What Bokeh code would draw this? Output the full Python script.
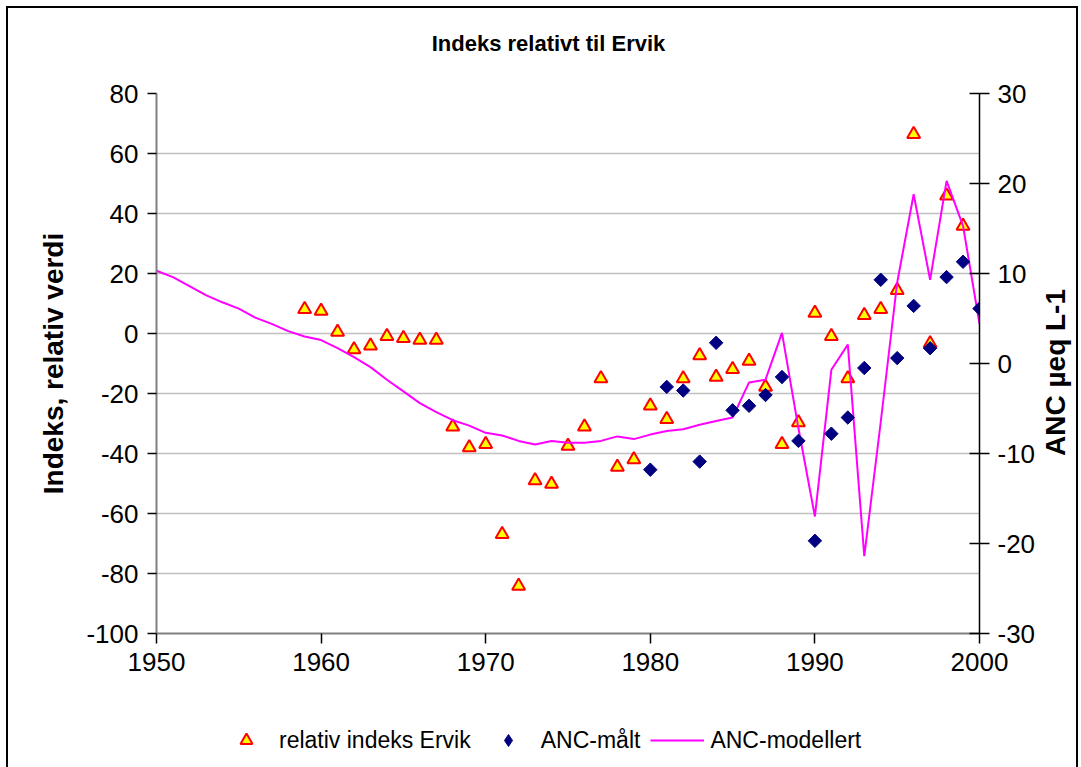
from bokeh.plotting import figure
from bokeh.layouts import column, row
from bokeh.models import Range1d, LinearAxis, FixedTicker, Legend, LegendItem, PrintfTickFormatter
from bokeh.core.properties import value
from bokeh.embed import file_html
from bokeh.resources import INLINE
import numpy as np

FONT = "Liberation Sans"

# relativ indeks Ervik (left axis)
idx_years = [1959, 1960, 1961, 1962, 1963, 1964, 1965, 1966, 1967, 1968, 1969,
             1970, 1971, 1972, 1973, 1974, 1975, 1976, 1977, 1978, 1979,
             1980, 1981, 1982, 1983, 1984, 1985, 1986, 1987, 1988, 1989,
             1990, 1991, 1992, 1993, 1994, 1995, 1996, 1997, 1998, 1999]
idx_values = [8.1, 7.5, 0.5, -5.3, -4.1, -0.9, -1.6, -2.2, -2.2, -31.1, -38.0,
              -36.9, -66.9, -84.2, -49.0, -50.2, -37.5, -31.1, -15.0, -44.5, -42.0,
              -24.1, -28.6, -15.0, -7.3, -14.5, -11.9, -9.2, -17.8, -36.9, -29.7,
              6.8, -0.9, -15.0, 6.1, 8.1, 14.4, 66.4, -3.3, 45.9, 35.8]

# ANC-målt (right axis)
anc_meas_years = [1980, 1981, 1982, 1983, 1984, 1985, 1986, 1987, 1988, 1989, 1990,
                  1991, 1992, 1993, 1994, 1995, 1996, 1997, 1998, 1999, 2000]
anc_meas = [-11.8, -2.6, -3.0, -10.9, 2.3, -5.2, -4.7, -3.5, -1.5, -8.6, -19.7,
            -7.8, -6.0, -0.5, 9.3, 0.6, 6.4, 1.7, 9.6, 11.3, 6.1]

# ANC-modellert (right axis)
anc_model_years = list(range(1950, 2001))
anc_model = [10.3, 9.6, 8.6, 7.6, 6.8, 6.1, 5.1, 4.4, 3.6, 3.0,
             2.6, 1.7, 0.7, -0.4, -1.8, -3.1, -4.4, -5.4, -6.3, -6.9,
             -7.7, -8.0, -8.6, -9.0, -8.6, -8.8, -8.8, -8.6, -8.1, -8.4,
             -7.9, -7.5, -7.3, -6.8, -6.4, -6.0, -2.1, -1.8, 3.4, -7.2,
             -17.0, -0.7, 2.1, -21.4, -6.5, 9.0, 18.8, 9.3, 20.3, 15.3,
             4.4]

x_ticks = [1950, 1960, 1970, 1980, 1990, 2000]
left_ticks = list(range(-100, 81, 20))
right_ticks = list(range(-30, 31, 10))
title_text = "Indeks relativt til Ervik"
left_label = "Indeks, relativ verdi"
right_label = "ANC µeq L-1"
legend_labels = ["relativ indeks Ervik", "ANC-målt", "ANC-modellert"]

W = 1068
BL, BR_MAIN = 148, 56          # left border, right border of main plot
BR_STRIP = W - BL - 826        # right border of strips so frames line up

def blank(fig):
    fig.outline_line_color = None
    fig.grid.visible = False
    fig.background_fill_color = "white"
    fig.border_fill_color = "white"

# ---- title strip (page y 8..68)
t = figure(width=W, height=60, x_range=Range1d(156, 982), y_range=Range1d(68, 8),
           output_backend="svg", toolbar_location=None,
           x_axis_type=None, y_axis_type=None,
           min_border_left=BL, min_border_right=BR_STRIP, min_border_top=0, min_border_bottom=0)
blank(t)
t.text(x=[548], y=[43], text=[title_text], text_align="center", text_baseline="middle",
       text_font=value(FONT), text_font_size="22px", text_font_style="bold", text_color="black")

# ---- main plot (page y 68..708)
p = figure(width=1030, height=640,
           x_range=Range1d(1950, 2000), y_range=Range1d(-100, 80),
           output_backend="svg", toolbar_location=None,
           min_border_left=BL, min_border_right=BR_MAIN,
           min_border_top=25, min_border_bottom=75)
blank(p)
p.grid.visible = True
p.extra_y_ranges = {"anc": Range1d(-30, 30)}

def style_axis(ax, line_color, line_width):
    ax.axis_line_color = line_color
    ax.axis_line_width = line_width
    ax.major_tick_line_color = "black"
    ax.major_tick_line_width = 1.5
    ax.minor_tick_line_color = None
    ax.major_label_text_font = FONT
    ax.major_label_text_font_size = "26px"
    ax.major_label_text_color = "black"
    ax.axis_label_text_font = FONT
    ax.axis_label_text_font_size = "28px"
    ax.axis_label_text_font_style = "bold"
    ax.axis_label_text_color = "black"
    ax.formatter = PrintfTickFormatter(format="%d")

xa = p.xaxis[0]
xa.ticker = FixedTicker(ticks=x_ticks)
style_axis(xa, "#808080", 2)
xa.major_tick_in = 0
xa.major_tick_out = 10
xa.major_label_standoff = 9

ya = p.yaxis[0]
ya.ticker = FixedTicker(ticks=left_ticks)
style_axis(ya, "#808080", 2)
ya.major_tick_in = 0
ya.major_tick_out = 9
ya.major_label_standoff = 9
ya.axis_label = left_label
ya.axis_label_standoff = 14

ra = LinearAxis(y_range_name="anc", ticker=FixedTicker(ticks=right_ticks))
style_axis(ra, "black", 1.5)
ra.major_tick_in = 10
ra.major_tick_out = 10
ra.major_label_standoff = 8
p.add_layout(ra, "right")

p.xgrid.visible = False
p.ygrid.ticker = FixedTicker(ticks=left_ticks)
p.ygrid.grid_line_color = "#c0c0c0"
p.ygrid.grid_line_width = 1.5

tri_style = dict(marker="triangle", size=13, fill_color="#FFFF00",
                 line_color="#FF0000", line_width=2)
dia_style = dict(marker="square", angle=np.pi / 4, size=9.5,
                 fill_color="#000080", line_color="#000080")
line_style = dict(line_color="#FF00FF", line_width=2)

p.scatter(idx_years, idx_values, **tri_style)
p.line(anc_model_years, anc_model, y_range_name="anc", **line_style)
p.scatter(anc_meas_years, anc_meas, y_range_name="anc", **dia_style)

# ---- right axis title strip (page x 1038..1076)
r = figure(width=W - 1030, height=640, x_range=Range1d(1038, 1076), y_range=Range1d(633, 93),
           output_backend="svg", toolbar_location=None,
           x_axis_type=None, y_axis_type=None,
           min_border_left=0, min_border_right=0, min_border_top=25, min_border_bottom=75)
blank(r)
r.text(x=[1055], y=[372], text=[right_label], angle=np.pi / 2,
       text_align="center", text_baseline="middle",
       text_font=value(FONT), text_font_size="28px", text_font_style="bold", text_color="black")

# ---- legend strip (page y 708..767)
q = figure(width=W, height=59, x_range=Range1d(156, 982), y_range=Range1d(767, 708),
           output_backend="svg", toolbar_location=None,
           x_axis_type=None, y_axis_type=None,
           min_border_left=BL, min_border_right=BR_STRIP, min_border_top=0, min_border_bottom=0)
blank(q)
# legend-only renderers, placed outside the visible range
lt = q.scatter(x=[0], y=[0], **tri_style)
ld = q.scatter(x=[0], y=[0], marker="diamond", size=12,
               fill_color="#000080", line_color="#000080")
ll = q.line(x=[0, 1], y=[0, 0], **line_style)

legend = Legend(items=[LegendItem(label=legend_labels[0], renderers=[lt]),
                       LegendItem(label=legend_labels[1], renderers=[ld]),
                       LegendItem(label=legend_labels[2], renderers=[ll])],
                orientation="horizontal", location=(63, 12),
                glyph_width=54, glyph_height=30, label_standoff=6, spacing=10,
                padding=0, margin=0, border_line_color=None,
                background_fill_alpha=0,
                label_text_font=FONT, label_text_font_size="23px",
                label_text_color="black")
q.add_layout(legend)

layout = column(t, row(p, r, spacing=0), q, spacing=0,
                styles={"margin-left": "8px", "margin-top": "8px",
                        "outline": "2px solid #000"})

open("out.html", "w").write(file_html(layout, INLINE))
